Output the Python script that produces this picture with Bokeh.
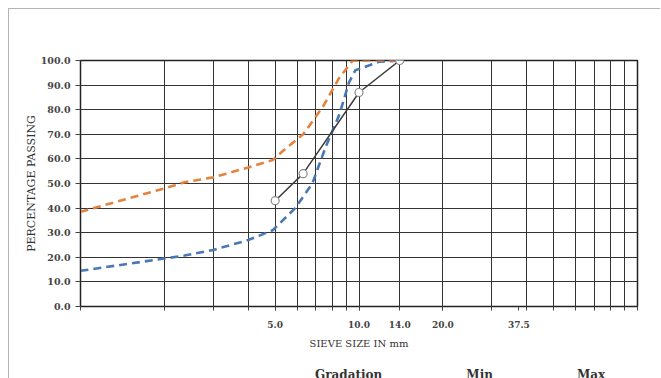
from bokeh.plotting import figure
from bokeh.layouts import column
from bokeh.models import Range1d, FixedTicker, NumeralTickFormatter, Legend, LegendItem
from bokeh.embed import file_html
from bokeh.resources import INLINE

# ---- data ----
grad_x = [5.0, 6.3, 10.0, 14.0]
grad_y = [43.0, 54.0, 87.0, 100.0]

min_x = [1.0, 2.0, 2.36, 3.0, 4.0, 4.9, 5.9, 6.8, 7.6, 8.5, 9.2, 9.7, 11.8, 14.0]
min_y = [14.5, 19.5, 20.7, 23.0, 27.0, 31.0, 40.0, 50.0, 65.0, 78.0, 91.0, 96.0, 99.5, 100.0]

max_x = [1.0, 2.0, 2.36, 3.0, 4.0, 4.9, 5.3, 6.3, 7.4, 8.5, 9.5, 14.0]
max_y = [38.5, 48.0, 50.5, 52.5, 56.5, 59.5, 63.0, 70.0, 81.0, 93.0, 100.0, 100.0]

series_names = ["Gradation", "Min", "Max"]

x_tick_values = [5.0, 10.0, 14.0, 20.0, 37.5]
x_minor_ticks = [1, 2, 3, 4, 5, 6, 7, 8, 9, 10, 20, 30, 40, 50, 60, 70, 80, 90, 100]
x_grid_values = [2, 3, 4, 5, 6, 7, 8, 9, 10, 14, 20, 30, 40, 50, 60, 70, 80, 90]
y_tick_values = [0, 10, 20, 30, 40, 50, 60, 70, 80, 90, 100]

FONT = "DejaVu Serif"
C_MIN, C_MAX, C_GRAD, C_MARK = "#4a78b3", "#e4823f", "#3c3c3c", "#8a8a8a"

p = figure(width=651, height=351, x_axis_type="log",
           x_range=Range1d(1, 100), y_range=Range1d(0, 100),
           output_backend="svg", toolbar_location=None,
           min_border_left=71, min_border_top=51, min_border_right=23, min_border_bottom=54)
p.background_fill_color = "white"
p.border_fill_color = "white"
p.outline_line_color = "#222222"
p.outline_line_width = 1.5

# grids
p.xgrid.ticker = FixedTicker(ticks=x_grid_values)
p.xgrid.grid_line_color = "#333333"
p.xgrid.grid_line_width = 1
p.ygrid.ticker = FixedTicker(ticks=y_tick_values)
p.ygrid.grid_line_color = "#333333"
p.ygrid.grid_line_width = 1

# axes
xa = p.xaxis[0]
xa.ticker = FixedTicker(ticks=x_tick_values, minor_ticks=x_minor_ticks)
xa.formatter = NumeralTickFormatter(format="0.0")
xa.axis_label = "SIEVE SIZE IN mm"
xa.axis_label_text_font = FONT
xa.axis_label_text_font_style = "normal"
xa.axis_label_text_font_size = "10px"
xa.axis_label_text_color = "#333333"
xa.axis_label_standoff = 7
xa.major_label_text_font = FONT
xa.major_label_text_font_style = "bold"
xa.major_label_text_font_size = "9px"
xa.major_label_text_color = "#444444"
xa.major_label_standoff = 10
xa.major_tick_out = 4
xa.major_tick_in = 0
xa.minor_tick_out = 4
xa.minor_tick_in = 0
xa.axis_line_color = "#222222"
xa.major_tick_line_color = "#444444"
xa.minor_tick_line_color = "#444444"

ya = p.yaxis[0]
ya.ticker = FixedTicker(ticks=y_tick_values)
ya.formatter = NumeralTickFormatter(format="0.0")
ya.axis_label = "PERCENTAGE PASSING"
ya.axis_label_text_font = FONT
ya.axis_label_text_font_style = "normal"
ya.axis_label_text_font_size = "11px"
ya.axis_label_text_color = "#333333"
ya.axis_label_standoff = 0
ya.major_label_text_font = FONT
ya.major_label_text_font_style = "bold"
ya.major_label_text_font_size = "9.5px"
ya.major_label_text_color = "#444444"
ya.major_label_standoff = 5
ya.major_tick_out = 5
ya.major_tick_in = 0
ya.minor_tick_out = 0
ya.minor_tick_in = 0
ya.axis_line_color = "#222222"
ya.major_tick_line_color = "#444444"

# series
p.line(min_x, min_y, line_color=C_MIN, line_width=2.6, line_dash="8 5")
p.line(max_x, max_y, line_color=C_MAX, line_width=2.6, line_dash="8 5")
p.line(grad_x, grad_y, line_color=C_GRAD, line_width=1.5)
p.scatter(grad_x, grad_y, marker="circle", size=8, fill_color="white",
          line_color=C_MARK, line_width=1.2)

# legend strip (separate small figure so the legend sits below the axis title)
p2 = figure(width=651, height=26, x_range=Range1d(0, 1), y_range=Range1d(0, 1),
            output_backend="svg", toolbar_location=None,
            x_axis_location=None, y_axis_location=None,
            min_border_left=0, min_border_right=0, min_border_top=0, min_border_bottom=0)
p2.grid.visible = False
p2.outline_line_color = None
p2.background_fill_color = "white"
p2.border_fill_color = "white"
l_gl = p2.line([], [], line_color=C_GRAD, line_width=1.5)
l_gm = p2.scatter([], [], marker="circle", size=8, fill_color="white",
                  line_color=C_MARK, line_width=1.2)
l_min = p2.line([], [], line_color=C_MIN, line_width=2.6, line_dash="8 5")
l_max = p2.line([], [], line_color=C_MAX, line_width=2.6, line_dash="8 5")

legend = Legend(items=[
    LegendItem(label=series_names[0], renderers=[l_gl, l_gm]),
    LegendItem(label=series_names[1], renderers=[l_min]),
    LegendItem(label=series_names[2], renderers=[l_max]),
], orientation="horizontal", location=(189, 4))
legend.label_text_font = FONT
legend.label_text_font_style = "bold"
legend.label_text_font_size = "12px"
legend.label_text_color = "#333333"
legend.glyph_width = 38
legend.glyph_height = 12
legend.label_height = 12
legend.label_standoff = 8
legend.spacing = 38
legend.padding = 1
legend.margin = 0
legend.border_line_color = None
legend.background_fill_alpha = 0
p2.add_layout(legend, "center")

layout = column(p, p2, margin=(8, 0, 0, 8),
                styles={"border-left": "1px solid #b4b4b4", "border-top": "1px solid #b4b4b4"})

open("out.html", "w").write(file_html(layout, INLINE))
